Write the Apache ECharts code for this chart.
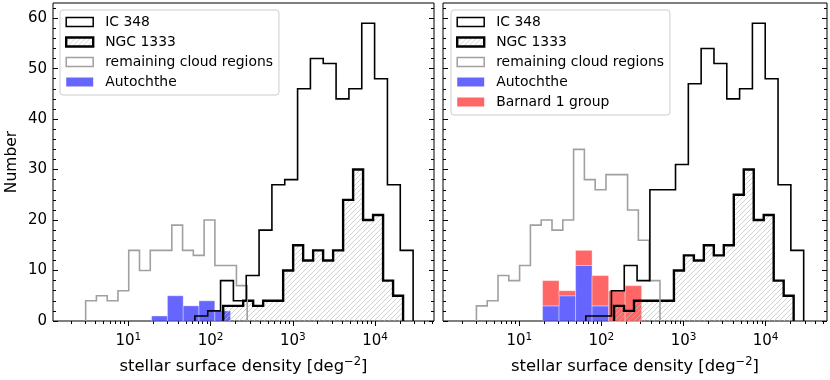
<!DOCTYPE html>
<html>
<head>
<meta charset="utf-8">
<script src="https://cdn.jsdelivr.net/npm/echarts@6/dist/echarts.min.js"></script>
<style>
html, body { margin: 0; background: #fff; }
#chart { width: 830px; height: 380px; }
</style>
</head>
<body>
<div id="chart"></div>
<script>
// histogram data, bin ranges are given as [first edge, last edge] in log10(deg^-2)
const icRange = [1.810, 4.463];
const icLeftCounts = [1, 2, 8, 4, 9, 18, 27, 28, 46, 52, 51, 44, 46, 59, 48, 27, 14];
const icRightCounts = [1, 1, 6, 11, 8, 26, 26, 31, 47, 54, 51, 44, 46, 59, 48, 27, 14];

const ngcRange = [2.154, 4.341];
const ngcLeftCounts = [3, 3, 4, 3, 4, 4, 10, 15, 12, 14, 12, 14, 24, 30, 20, 21, 8, 5];
const ngcRightCounts = [3, 2, 4, 4, 4, 4, 10, 13, 12, 15, 13, 15, 25, 30, 20, 21, 8, 5];

const restLeftRange = [0.482, 2.446];
const restLeftCounts = [4, 5, 4, 6, 14, 10, 14, 14, 19, 14, 13, 20, 11, 11, 7];
const restRightRange = [0.478, 2.713];
const restRightCounts = [3, 4, 9, 8, 11, 19, 20, 18, 20, 34, 28, 26, 29, 29, 22, 16, 8];

const autoLeftRange = [1.284, 2.244];
const autoLeftCounts = [1, 5, 3, 4, 2];
const autoRightRange = [1.283, 2.490];
const autoRightCounts = [3, 5, 11, 3, 0, 0];
const barnardRightCounts = [5, 1, 3, 6, 6, 7];   // stacked on Autochthe

// axes
const xLeftLim = [0.085, 4.717];
const xRightLim = [0.071, 4.747];
const yMax = 63;
const xMajor = [1, 2, 3, 4];
const yMajor = [0, 10, 20, 30, 40, 50, 60];

const font = 'DejaVu Sans';

function binEdges(range, n) {
  const w = (range[1] - range[0]) / n;
  const e = [];
  for (let i = 0; i <= n; i++) e.push(range[0] + i * w);
  return e;
}

// outline of a step histogram
function stepPoints(range, counts) {
  const e = binEdges(range, counts.length);
  const pts = [[e[0], 0]];
  counts.forEach(function (c, i) { pts.push([e[i], c], [e[i + 1], c]); });
  pts.push([e[e.length - 1], 0]);
  return pts;
}

function barRects(range, counts, base) {
  const e = binEdges(range, counts.length);
  return counts.map(function (c, i) {
    const b = base ? base[i] : 0;
    return [e[i], e[i + 1], b, b + c];
  });
}

function minorX(lim) {
  const v = [];
  for (let n = 0; n <= 4; n++) {
    for (let k = 2; k <= 9; k++) {
      const t = n + Math.log10(k);
      if (t > lim[0] && t < lim[1]) v.push(t);
    }
  }
  return v;
}
const yMinor = [];
for (let v = 2; v < yMax; v += 2) if (v % 10) yMinor.push(v);

function hatchCanvas() {
  const c = document.createElement('canvas');
  c.width = 5; c.height = 5;
  const g = c.getContext('2d');
  g.strokeStyle = '#bdbdbd';
  g.lineWidth = 0.7;
  g.beginPath();
  g.moveTo(0, 5); g.lineTo(5, 0);
  g.moveTo(-1, 1); g.lineTo(1, -1);
  g.moveTo(4, 6); g.lineTo(6, 4);
  g.stroke();
  return c;
}
const hatch = { image: hatchCanvas(), repeat: 'repeat' };

const tickStyle = { color: '#000', width: 1 };

function xAxes(gi, lim) {
  return [{
    type: 'value', gridIndex: gi, position: 'bottom', min: lim[0], max: lim[1],
    splitLine: { show: false }, axisLine: { show: false },
    axisTick: { show: true, length: 5, customValues: xMajor, lineStyle: tickStyle },
    axisLabel: {
      customValues: xMajor, margin: 11, color: '#000', fontFamily: font, fontSize: 15,
      formatter: function (v) { return '{b|10}{s|' + v + '}'; },
      rich: {
        b: { fontFamily: font, fontSize: 15, color: '#000' },
        s: { fontFamily: font, fontSize: 10.5, color: '#000', padding: [0, 0, 8, 0] }
      }
    },
    name: 'stellar surface density [deg{s|\u22122}]', nameLocation: 'middle', nameGap: 35,
    nameTextStyle: {
      fontFamily: font, fontSize: 16.4, color: '#000',
      rich: { s: { fontFamily: font, fontSize: 11.5, color: '#000', padding: [0, 0, 9, 0] } }
    }
  }, {
    type: 'value', gridIndex: gi, position: 'bottom', min: lim[0], max: lim[1],
    splitLine: { show: false }, axisLine: { show: false }, axisLabel: { show: false },
    axisTick: { show: true, length: 3, customValues: minorX(lim), lineStyle: tickStyle }
  }];
}

function yAxes(gi, labels) {
  const base = { type: 'value', gridIndex: gi, min: 0, max: yMax,
    splitLine: { show: false }, axisLine: { show: false } };
  const list = [];
  ['left', 'right'].forEach(function (pos) {
    const showLab = labels && pos === 'left';
    list.push(Object.assign({}, base, {
      position: pos,
      axisTick: { show: true, inside: true, length: 5, customValues: yMajor, lineStyle: tickStyle },
      axisLabel: { show: showLab, customValues: yMajor, margin: 6, color: '#000', fontFamily: font, fontSize: 15 },
      name: showLab ? 'Number' : '', nameLocation: 'middle', nameGap: 33,
      nameTextStyle: { fontFamily: font, fontSize: 15.5, color: '#000' }
    }));
    list.push(Object.assign({}, base, {
      position: pos, axisLabel: { show: false },
      axisTick: { show: true, inside: true, length: 3, customValues: yMinor, lineStyle: tickStyle }
    }));
  });
  return list;
}

function barSeries(name, color, xi, yi, rects) {
  return {
    name: name, type: 'custom', xAxisIndex: xi, yAxisIndex: yi, z: 1,
    encode: { x: [0, 1], y: [2, 3] },
    data: rects,
    renderItem: function (params, api) {
      const p0 = api.coord([api.value(0), api.value(3)]);
      const p1 = api.coord([api.value(1), api.value(2)]);
      return {
        type: 'rect',
        shape: { x: p0[0], y: p0[1], width: p1[0] - p0[0], height: p1[1] - p0[1] },
        style: { fill: color, stroke: 'rgba(255,255,255,0.35)', lineWidth: 1 }
      };
    }
  };
}

function stepSeries(name, xi, yi, pts, color, width, z, area) {
  const s = {
    name: name, type: 'line', xAxisIndex: xi, yAxisIndex: yi, z: z,
    data: pts, symbol: 'none', showSymbol: false,
    lineStyle: { color: color, width: width, join: 'miter' },
    itemStyle: { color: color }
  };
  if (area) s.areaStyle = { color: area, opacity: 1 };
  return s;
}

const blue = 'rgba(0,0,255,0.6)';
const red = 'rgba(255,0,0,0.6)';
const grey = '#a0a0a0';

const series = [
  // left panel
  barSeries('Autochthe', blue, 0, 0, barRects(autoLeftRange, autoLeftCounts)),
  stepSeries('NGC 1333', 0, 0, stepPoints(ngcRange, ngcLeftCounts), '#000', 2.4, 2, hatch),
  stepSeries('remaining cloud regions', 0, 0, stepPoints(restLeftRange, restLeftCounts), grey, 1.6, 3),
  stepSeries('IC 348', 0, 0, stepPoints(icRange, icLeftCounts), '#000', 1.6, 4),
  // right panel
  barSeries('Autochthe', blue, 2, 4, barRects(autoRightRange, autoRightCounts)),
  barSeries('Barnard 1 group', red, 2, 4, barRects(autoRightRange, barnardRightCounts, autoRightCounts)),
  stepSeries('NGC 1333', 2, 4, stepPoints(ngcRange, ngcRightCounts), '#000', 2.4, 2, hatch),
  stepSeries('remaining cloud regions', 2, 4, stepPoints(restRightRange, restRightCounts), grey, 1.6, 3),
  stepSeries('IC 348', 2, 4, stepPoints(icRange, icRightCounts), '#000', 1.6, 4)
];

const legendItems = [
  { name: 'IC 348', icon: 'rect', itemStyle: { color: '#fff', borderColor: '#000', borderWidth: 1.5 } },
  { name: 'NGC 1333', icon: 'rect', itemStyle: { color: hatch, borderColor: '#000', borderWidth: 2.4 } },
  { name: 'remaining cloud regions', icon: 'rect', itemStyle: { color: '#fff', borderColor: grey, borderWidth: 1.5 } },
  { name: 'Autochthe', icon: 'rect', itemStyle: { color: blue, borderWidth: 0 } },
  { name: 'Barnard 1 group', icon: 'rect', itemStyle: { color: red, borderWidth: 0 } }
];

function legend(left, items) {
  return {
    orient: 'vertical', left: left, top: 10, data: items,
    itemWidth: 27, itemHeight: 9, itemGap: 4, selectedMode: false,
    backgroundColor: 'rgba(255,255,255,0.8)', borderColor: '#ccc', borderWidth: 1, borderRadius: 3,
    padding: [4, 6, 5, 5],
    textStyle: { fontFamily: font, fontSize: 13.9, color: '#000', lineHeight: 16, padding: [0, 0, 0, 7] }
  };
}

const chart = echarts.init(document.getElementById('chart'));
chart.setOption({
  animation: false,
  grid: [
    { left: 53, top: 3, width: 381, height: 318, show: true, borderColor: '#000', borderWidth: 1 },
    { left: 443, top: 3, width: 384, height: 318, show: true, borderColor: '#000', borderWidth: 1 }
  ],
  xAxis: xAxes(0, xLeftLim).concat(xAxes(1, xRightLim)),
  yAxis: yAxes(0, true).concat(yAxes(1, false)),
  legend: [legend(60, legendItems.slice(0, 4)), legend(451, legendItems)],
  series: series
});
</script>
</body>
</html>
